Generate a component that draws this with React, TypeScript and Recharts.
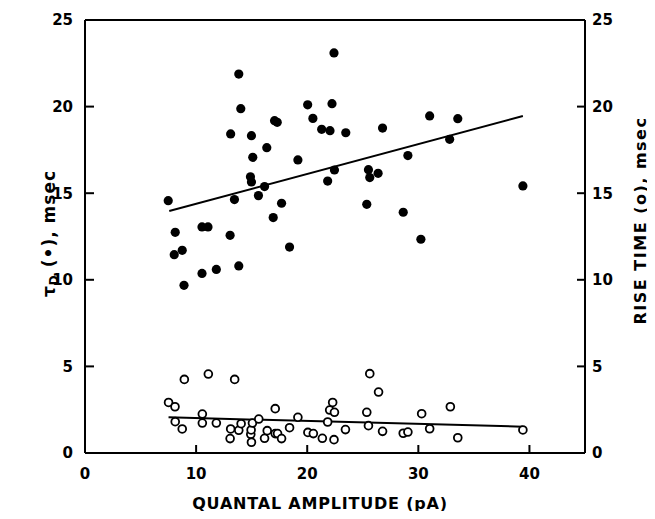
import { ScatterChart, Scatter, XAxis, YAxis, ReferenceLine } from "recharts"

const xTicks = [0, 10, 20, 30, 40]
const yTicks = [0, 5, 10, 15, 20, 25]

// decay time constant, filled circles (pA, msec)
const tauX = [
  7.49, 8.03, 8.12, 8.75, 8.91, 10.53, 11.07, 10.53, 11.82, 13.06, 13.11, 13.45, 13.84, 13.84, 14.02, 14.89, 14.98,
  14.98, 15.1, 15.61, 16.16, 16.36, 16.94, 17.06, 17.3, 17.69, 18.41, 19.16, 20.04, 20.51, 21.3, 21.84, 22.05, 22.23,
  22.41, 22.45, 23.47, 25.36, 25.51, 25.63, 26.38, 26.78, 28.64, 29.06, 30.23, 31.02, 32.82, 33.55, 39.41,
]
const tauY = [
  14.57, 11.45, 12.74, 11.7, 9.68, 13.05, 13.05, 10.37, 10.6, 12.57, 18.42, 14.63, 21.88, 10.8, 19.88, 15.95, 15.65,
  18.32, 17.07, 14.86, 15.38, 17.63, 13.59, 19.19, 19.09, 14.42, 11.89, 16.92, 20.1, 19.32, 18.69, 15.7, 18.61, 20.17,
  23.1, 16.34, 18.49, 14.36, 16.36, 15.9, 16.15, 18.76, 13.9, 17.17, 12.34, 19.46, 18.11, 19.3, 15.42,
]

// rise time, open circles
const riseX = [
  7.52, 8.1, 8.12, 8.75, 8.94, 10.56, 10.56, 11.1, 11.82, 13.06, 13.11, 13.47, 13.84, 14.05, 14.92, 14.95, 14.98, 15.07,
  15.64, 16.16, 16.4, 17.12, 17.12, 17.33, 17.69, 18.41, 19.16, 20.06, 20.55, 21.36, 21.84, 22.02, 22.29, 22.45, 22.41,
  23.44, 25.36, 25.51, 25.63, 26.42, 26.78, 28.64, 29.06, 30.3, 31.02, 32.88, 33.55, 39.41,
]
const riseY = [
  2.92, 2.67, 1.81, 1.39, 4.25, 2.25, 1.73, 4.56, 1.73, 0.83, 1.39, 4.25, 1.31, 1.69, 1.08, 1.33, 0.62, 1.73, 1.96, 0.85,
  1.29, 2.56, 1.12, 1.12, 0.83, 1.46, 2.06, 1.19, 1.12, 0.85, 1.79, 2.48, 2.92, 2.35, 0.77, 1.35, 2.35, 1.58, 4.58, 3.52,
  1.25, 1.14, 1.21, 2.27, 1.4, 2.67, 0.88, 1.33,
]

// regression line end points
const tauFitX = [7.58, 39.41]
const tauFitY = [13.97, 19.46]
const riseFitX = [7.52, 39.41]
const riseFitY = [2.06, 1.52]

const tauData = tauX.map((x, i) => ({ x, y: tauY[i] }))
const riseData = riseX.map((x, i) => ({ x, y: riseY[i] }))

const FONT = '"DejaVu Sans", sans-serif'
const tickStyle = { fill: "#000", fontSize: 15, fontFamily: FONT, fontWeight: "bold" }
const axisStroke = { stroke: "#000", strokeWidth: 2 }

const FilledDot = (props: any) => <circle cx={props.cx} cy={props.cy} r={4.6} fill="#000" />
const OpenDot = (props: any) => (
  <circle cx={props.cx} cy={props.cy} r={3.9} fill="#fff" stroke="#000" strokeWidth={1.8} />
)

const LeftTitle = (props: any) => {
  const vb = props.viewBox
  const cx = vb.x + 41
  const cy = vb.y + vb.height / 2 - 3
  return (
    <text
      x={cx}
      y={cy}
      transform={`rotate(-90, ${cx}, ${cy})`}
      textAnchor="middle"
      dominantBaseline="central"
      fontFamily={FONT}
      fontWeight="bold"
      fontSize={17}
      letterSpacing={1}
      fill="#000"
    >
      τ<tspan fontSize={12} dy={5}>D</tspan>
      <tspan dy={-5}> (•), msec</tspan>
    </text>
  )
}

const RightTitle = (props: any) => {
  const vb = props.viewBox
  const cx = vb.x + 55
  const cy = vb.y + vb.height / 2 - 16
  return (
    <text
      x={cx}
      y={cy}
      transform={`rotate(-90, ${cx}, ${cy})`}
      textAnchor="middle"
      dominantBaseline="central"
      fontFamily={FONT}
      fontWeight="bold"
      fontSize={16}
      letterSpacing={1.5}
      fill="#000"
    >
      RISE TIME (o), msec
    </text>
  )
}

const BottomTitle = (props: any) => {
  const vb = props.viewBox
  return (
    <text
      x={vb.x + vb.width / 2 - 15}
      y={vb.y + 50}
      textAnchor="middle"
      dominantBaseline="central"
      fontFamily={FONT}
      fontWeight="bold"
      fontSize={16}
      letterSpacing={0.8}
      fill="#000"
    >
      QUANTAL AMPLITUDE (pA)
    </text>
  )
}

export default function App() {
  return (
    <div style={{ margin: -8, width: 655, height: 519, overflow: "hidden", background: "#fff" }}>
      <ScatterChart
        width={655}
        height={519}
        margin={{ top: 20, right: 0, bottom: 0, left: 8 }}
        style={{ display: "block" }}
      >
        <XAxis
          type="number"
          dataKey="x"
          domain={[0, 45]}
          ticks={xTicks}
          height={66}
          axisLine={axisStroke}
          tickLine={axisStroke}
          tickSize={-8}
          tickMargin={23}
          tick={tickStyle}
          label={BottomTitle}
        />
        <YAxis
          yAxisId="left"
          type="number"
          dataKey="y"
          domain={[0, 25]}
          ticks={yTicks}
          width={77}
          axisLine={axisStroke}
          tickLine={axisStroke}
          tickSize={-9}
          tickMargin={21}
          tick={tickStyle}
          label={LeftTitle}
        />
        <YAxis
          yAxisId="right"
          orientation="right"
          type="number"
          dataKey="y"
          domain={[0, 25]}
          ticks={yTicks}
          width={70}
          axisLine={axisStroke}
          tickLine={axisStroke}
          tickSize={-8}
          tickMargin={15}
          tick={tickStyle}
          label={RightTitle}
        />
        <ReferenceLine yAxisId="left" y={25} stroke="#000" strokeWidth={2} />
        <ReferenceLine
          yAxisId="left"
          segment={[
            { x: tauFitX[0], y: tauFitY[0] },
            { x: tauFitX[1], y: tauFitY[1] },
          ]}
          stroke="#000"
          strokeWidth={2}
        />
        <ReferenceLine
          yAxisId="right"
          segment={[
            { x: riseFitX[0], y: riseFitY[0] },
            { x: riseFitX[1], y: riseFitY[1] },
          ]}
          stroke="#000"
          strokeWidth={2}
        />
        <Scatter yAxisId="left" data={tauData} shape={FilledDot} isAnimationActive={false} />
        <Scatter yAxisId="right" data={riseData} shape={OpenDot} isAnimationActive={false} />
      </ScatterChart>
    </div>
  )
}
